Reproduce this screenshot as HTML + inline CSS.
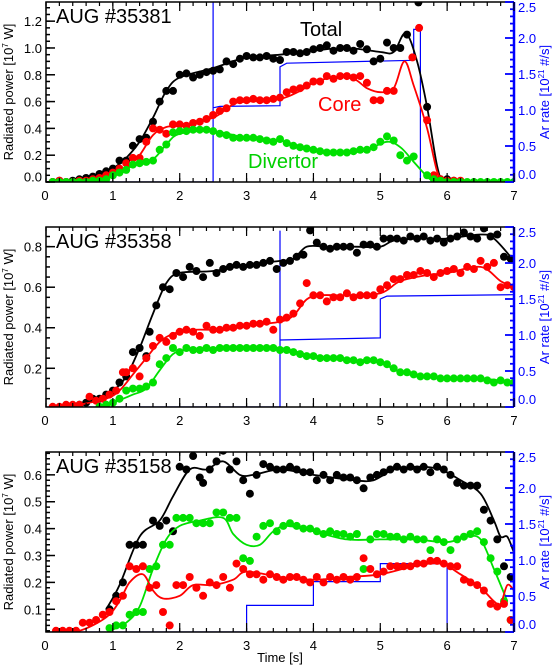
<!DOCTYPE html>
<html><head><meta charset="utf-8">
<style>
html,body{margin:0;padding:0;background:#fff;}
svg{display:block;font-family:"Liberation Sans",Arial,sans-serif;}
</style></head>
<body>
<svg id="chart" width="552" height="667" viewBox="0 0 552 667" xmlns="http://www.w3.org/2000/svg"></svg>
<script>
// ---------- Panel 1: AUG #35381 ----------
const p1TotT=[0.1,0.2,0.3,0.4,0.5,0.6,0.7,0.8,0.9,1.0,1.1,1.2,1.3,1.4,1.5,1.6,1.7,1.8,1.9,2.0,2.1,2.2,2.3,2.4,2.5,2.6,2.7,2.8,2.9,3.0,3.1,3.2,3.3,3.4,3.5,3.6,3.7,3.8,3.9,4.0,4.1,4.2,4.3,4.4,4.5,4.6,4.7,4.8,4.9,5.0,5.1,5.2,5.3,5.4,5.57,5.7,5.8,5.9,6.0,6.1];
const p1TotV=[0,0.01,0,0.01,0.02,0.03,0.04,0.06,0.08,0.1,0.16,0.16,0.27,0.32,0.33,0.45,0.6,0.68,0.68,0.8,0.81,0.78,0.8,0.82,0.83,0.84,0.9,0.88,0.92,0.94,0.93,0.93,0.94,0.92,0.91,0.97,0.97,0.96,0.97,0.99,1.0,1.02,0.98,1.0,1.0,0.98,1.03,0.99,0.9,0.92,1.04,1.0,1.0,1.1,1.34,0.56,0.03,0.02,0.02,0.01];
const p1CorT=[0.1,0.2,0.3,0.4,0.5,0.6,0.7,0.8,0.9,1.0,1.1,1.2,1.3,1.4,1.5,1.6,1.7,1.8,1.9,2.0,2.1,2.2,2.3,2.4,2.5,2.6,2.7,2.8,2.9,3.0,3.1,3.2,3.3,3.4,3.5,3.6,3.7,3.8,3.9,4.0,4.1,4.2,4.3,4.4,4.5,4.6,4.7,4.8,4.9,5.0,5.1,5.2,5.48,5.58,5.7,5.8,5.9,6.0,6.1,6.2];
const p1CorV=[0,0.01,0,0,0.01,0.01,0.02,0.03,0.05,0.07,0.1,0.14,0.18,0.18,0.3,0.4,0.39,0.36,0.43,0.43,0.42,0.44,0.45,0.47,0.5,0.53,0.55,0.6,0.61,0.61,0.62,0.61,0.61,0.62,0.63,0.67,0.69,0.7,0.72,0.75,0.75,0.79,0.77,0.79,0.79,0.78,0.79,0.74,0.61,0.61,0.68,0.68,0.93,1.15,0.46,0.05,0.02,0.01,0.01,0.01];
const p1DivT=[0.1,0.2,0.3,0.4,0.5,0.6,0.7,0.8,0.9,1.0,1.1,1.2,1.3,1.4,1.5,1.6,1.7,1.8,1.9,2.0,2.1,2.2,2.3,2.4,2.5,2.6,2.7,2.8,2.9,3.0,3.1,3.2,3.3,3.4,3.5,3.6,3.7,3.8,3.9,4.0,4.1,4.2,4.3,4.4,4.5,4.6,4.7,4.8,4.9,5.0,5.1,5.2,5.3,5.4,5.5,5.7,5.8,5.9,6.0,6.1,6.2,6.3,6.4,6.5,6.6,6.7,6.8,6.9,7.0];
const p1DivV=[0,0,0,0,0,0,0.01,0.01,0.02,0.05,0.07,0.09,0.13,0.14,0.15,0.16,0.24,0.28,0.37,0.38,0.38,0.39,0.39,0.39,0.38,0.36,0.35,0.33,0.33,0.33,0.33,0.32,0.31,0.3,0.32,0.29,0.27,0.26,0.25,0.24,0.23,0.22,0.22,0.22,0.22,0.23,0.24,0.24,0.26,0.3,0.34,0.31,0.2,0.16,0.19,0.05,0.02,0.01,0,0,0,0,0,0,0,0,0,0,0];
const p1TotLT=[0,0.5,0.8,1.0,1.2,1.4,1.6,1.8,2.0,2.5,3.0,3.5,4.0,4.5,5.0,5.2,5.38,5.55,5.7,5.85,5.95,6.2];
const p1TotLV=[0,0.01,0.05,0.1,0.18,0.3,0.48,0.68,0.78,0.85,0.93,0.95,0.98,1.0,0.97,0.97,1.11,0.9,0.56,0.12,0.01,0];
const p1CorLT=[0.8,1.0,1.2,1.4,1.6,1.8,2.0,2.5,2.8,3.0,3.5,3.8,4.0,4.3,4.6,4.8,5.0,5.2,5.36,5.5,5.7,5.85,5.95];
const p1CorLV=[0.02,0.04,0.1,0.2,0.35,0.41,0.42,0.48,0.58,0.6,0.62,0.68,0.74,0.78,0.77,0.7,0.67,0.7,0.9,0.72,0.4,0.08,0.01];
const p1DivLT=[0.8,1.0,1.3,1.6,1.8,2.0,2.5,3.0,3.5,4.0,4.5,4.8,5.1,5.3,5.5,5.7,5.8];
const p1DivLV=[0,0.05,0.12,0.17,0.28,0.36,0.38,0.33,0.31,0.24,0.22,0.24,0.3,0.26,0.15,0.04,0];
const p1ArT=[0,2.5,2.5,2.5,2.6,3.5,3.5,3.6,5.5,5.5,5.6,5.6,7];
const p1ArV=[0,0,2.5,1.03,1.05,1.06,1.6,1.65,1.69,2.12,2.12,0,0];
const p1LeftTicks=[0.0,0.2,0.4,0.6,0.8,1.0,1.2];

// ---------- Panel 2: AUG #35358 ----------
const p2TotT=[0.1,0.2,0.3,0.4,0.5,0.6,0.7,0.8,0.9,1.0,1.1,1.2,1.3,1.4,1.5,1.55,1.65,1.75,1.85,1.95,2.05,2.15,2.25,2.35,2.45,2.55,2.65,2.75,2.85,2.95,3.05,3.15,3.25,3.35,3.45,3.55,3.65,3.75,3.85,3.95,4.05,4.15,4.25,4.35,4.45,4.55,4.65,4.75,4.85,4.95,5.05,5.15,5.25,5.35,5.45,5.55,5.65,5.75,5.85,5.95,6.05,6.15,6.25,6.35,6.45,6.55,6.65,6.75,6.85,6.95];
const p2TotV=[0,0,0.01,0.01,0.02,0.03,0.05,0.05,0.07,0.09,0.13,0.16,0.28,0.3,0.26,0.38,0.51,0.6,0.59,0.67,0.65,0.7,0.68,0.65,0.72,0.67,0.69,0.7,0.71,0.7,0.71,0.71,0.72,0.73,0.69,0.72,0.73,0.75,0.76,0.88,0.82,0.8,0.79,0.8,0.8,0.8,0.77,0.81,0.81,0.8,0.84,0.84,0.84,0.83,0.85,0.84,0.85,0.83,0.84,0.82,0.84,0.85,0.87,0.85,0.84,0.89,0.85,0.86,0.75,0.74];
const p2CorT=[0.1,0.2,0.3,0.4,0.5,0.65,0.75,0.85,0.95,1.05,1.15,1.2,1.3,1.4,1.5,1.6,1.7,1.8,1.9,2.0,2.1,2.2,2.3,2.4,2.5,2.6,2.7,2.8,2.9,3.0,3.1,3.2,3.3,3.4,3.5,3.6,3.7,3.8,3.9,4.0,4.1,4.2,4.3,4.4,4.5,4.6,4.7,4.8,4.9,5.0,5.1,5.2,5.3,5.4,5.5,5.6,5.7,5.8,5.9,6.0,6.1,6.2,6.3,6.4,6.5,6.6,6.7,6.8,6.9,7.0];
const p2CorV=[0.01,0.01,0.02,0.02,0.02,0.06,0.04,0.05,0.07,0.09,0.18,0.18,0.2,0.16,0.25,0.31,0.35,0.33,0.36,0.38,0.39,0.38,0.36,0.41,0.39,0.39,0.4,0.4,0.41,0.41,0.42,0.42,0.43,0.39,0.44,0.45,0.47,0.52,0.62,0.56,0.56,0.53,0.55,0.55,0.57,0.55,0.56,0.56,0.56,0.59,0.61,0.64,0.64,0.66,0.66,0.68,0.67,0.65,0.67,0.68,0.69,0.67,0.7,0.69,0.73,0.7,0.72,0.6,0.61,0.6];
const p2DivT=[0.8,0.9,1.0,1.1,1.2,1.3,1.4,1.5,1.6,1.7,1.8,1.9,2.0,2.1,2.2,2.3,2.4,2.5,2.6,2.7,2.8,2.9,3.0,3.1,3.2,3.3,3.4,3.5,3.6,3.7,3.8,3.9,4.0,4.1,4.2,4.3,4.4,4.5,4.6,4.7,4.8,4.9,5.0,5.1,5.2,5.3,5.4,5.5,5.6,5.7,5.8,5.9,6.0,6.1,6.2,6.3,6.4,6.5,6.6,6.7,6.8,6.9,7.0];
const p2DivV=[0.01,0.02,0.03,0.05,0.09,0.1,0.1,0.11,0.13,0.22,0.25,0.3,0.28,0.3,0.29,0.29,0.3,0.29,0.3,0.3,0.3,0.3,0.3,0.3,0.3,0.3,0.3,0.29,0.29,0.28,0.27,0.26,0.26,0.25,0.25,0.25,0.25,0.24,0.24,0.23,0.24,0.24,0.23,0.22,0.2,0.18,0.18,0.17,0.16,0.16,0.16,0.15,0.15,0.15,0.15,0.15,0.15,0.15,0.14,0.13,0.14,0.13,0.13];
const p2TotLT=[0.3,0.7,1.0,1.2,1.4,1.6,1.8,2.0,2.5,3.0,3.5,3.7,3.9,4.2,4.6,5.0,5.2,5.6,6.0,6.5,6.7,7.0];
const p2TotLV=[0.02,0.04,0.09,0.16,0.3,0.47,0.62,0.67,0.68,0.71,0.73,0.74,0.8,0.8,0.8,0.8,0.83,0.84,0.84,0.86,0.84,0.73];
const p2CorLT=[0.5,0.9,1.1,1.3,1.5,1.7,1.9,2.2,2.7,3.0,3.5,3.7,3.9,4.1,4.5,5.0,5.3,5.7,6.0,6.5,6.8,7.0];
const p2CorLV=[0.02,0.05,0.09,0.17,0.25,0.33,0.37,0.39,0.39,0.41,0.43,0.46,0.54,0.56,0.56,0.57,0.63,0.66,0.67,0.7,0.63,0.6];
const p2DivLT=[0.8,1.0,1.3,1.5,1.7,1.9,2.1,2.5,3.0,3.5,4.0,4.5,4.8,5.0,5.3,5.6,6.0,6.5,7.0];
const p2DivLV=[0.01,0.03,0.07,0.1,0.19,0.27,0.29,0.29,0.3,0.3,0.26,0.24,0.24,0.23,0.18,0.16,0.15,0.15,0.13];
const p2ArT=[0,3.5,3.5,3.5,5.0,5.0,5.1,7];
const p2ArV=[0,0,2.45,0.93,0.96,1.5,1.54,1.56];
const p2LeftTicks=[0.2,0.4,0.6,0.8];

// ---------- Panel 3: AUG #35158 ----------
const p3TotT=[0.95,1.05,1.15,1.25,1.35,1.45,1.6,1.7,1.8,1.9,2.0,2.1,2.2,2.3,2.35,2.45,2.55,2.65,2.75,2.85,2.95,3.05,3.15,3.25,3.35,3.45,3.55,3.65,3.75,3.85,3.95,4.05,4.15,4.25,4.35,4.45,4.55,4.65,4.75,4.85,4.95,5.05,5.15,5.25,5.35,5.45,5.55,5.65,5.75,5.85,5.95,6.05,6.15,6.25,6.35,6.45,6.55,6.65,6.75,6.85,6.95];
const p3TotV=[0.1,0.15,0.2,0.34,0.34,0.34,0.43,0.41,0.43,0.39,0.63,0.62,0.67,0.59,0.57,0.62,0.65,0.69,0.62,0.65,0.58,0.53,0.6,0.64,0.63,0.62,0.62,0.63,0.62,0.61,0.61,0.58,0.6,0.58,0.6,0.59,0.59,0.58,0.55,0.59,0.6,0.61,0.62,0.63,0.62,0.63,0.62,0.63,0.61,0.63,0.62,0.6,0.57,0.56,0.56,0.56,0.47,0.43,0.36,0.26,0.22];
const p3DivT=[0.95,1.05,1.15,1.25,1.35,1.45,1.55,1.65,1.75,1.85,1.95,2.05,2.15,2.25,2.35,2.45,2.55,2.65,2.75,2.85,2.95,3.05,3.15,3.25,3.35,3.45,3.55,3.65,3.75,3.85,3.95,4.05,4.15,4.25,4.35,4.45,4.55,4.65,4.75,4.85,4.95,5.05,5.15,5.25,5.35,5.45,5.55,5.65,5.75,5.85,5.95,6.05,6.15,6.25,6.35,6.45,6.55,6.65,6.75,6.85,6.95];
const p3DivV=[0.03,0.04,0.04,0.08,0.09,0.09,0.25,0.26,0.34,0.34,0.44,0.44,0.44,0.42,0.42,0.42,0.46,0.46,0.44,0.44,0.29,0.28,0.37,0.41,0.42,0.39,0.41,0.42,0.41,0.4,0.4,0.39,0.38,0.39,0.38,0.38,0.37,0.38,0.25,0.36,0.38,0.38,0.37,0.37,0.36,0.37,0.36,0.36,0.32,0.36,0.35,0.32,0.36,0.37,0.38,0.39,0.35,0.29,0.24,0.13,0.06];
const p3CorT=[0.15,0.25,0.35,0.45,0.55,0.65,0.75,0.85,0.95,1.05,1.15,1.25,1.35,1.45,1.55,1.65,1.75,1.85,1.95,2.05,2.15,2.25,2.35,2.45,2.55,2.65,2.75,2.85,2.95,3.05,3.15,3.25,3.35,3.45,3.55,3.65,3.75,3.85,3.95,4.05,4.15,4.25,4.35,4.45,4.55,4.65,4.75,4.85,4.95,5.05,5.15,5.25,5.35,5.45,5.55,5.65,5.75,5.85,5.95,6.05,6.15,6.25,6.35,6.45,6.55,6.65,6.75,6.85,6.95];
const p3CorV=[0.02,0.02,0.02,0.02,0.05,0.05,0.06,0.08,0.09,0.13,0.15,0.26,0.25,0.26,0.18,0.19,0.09,0.04,0.19,0.19,0.22,0.18,0.15,0.2,0.19,0.22,0.18,0.27,0.25,0.23,0.23,0.21,0.23,0.22,0.21,0.22,0.22,0.21,0.2,0.22,0.2,0.22,0.21,0.22,0.21,0.22,0.29,0.25,0.23,0.24,0.26,0.26,0.26,0.26,0.27,0.27,0.28,0.28,0.27,0.26,0.26,0.21,0.2,0.19,0.17,0.12,0.11,0.12,0.06];
const p3TotLT=[0.9,1.1,1.4,1.7,1.9,2.15,2.4,2.65,2.9,3.1,3.5,4.0,4.6,4.9,5.2,5.6,5.9,6.2,6.5,6.7,6.8,6.9,7.0];
const p3TotLV=[0.1,0.19,0.37,0.43,0.52,0.62,0.62,0.65,0.6,0.6,0.62,0.6,0.58,0.58,0.62,0.63,0.62,0.58,0.53,0.43,0.37,0.37,0.31];
const p3DivLT=[0.95,1.2,1.4,1.6,1.8,2.0,2.3,2.65,2.8,3.0,3.2,3.4,3.6,4.0,4.5,5.0,5.5,6.0,6.3,6.5,6.7,6.9];
const p3DivLV=[0.02,0.05,0.11,0.25,0.36,0.41,0.43,0.44,0.38,0.34,0.34,0.39,0.41,0.39,0.36,0.36,0.36,0.35,0.37,0.36,0.25,0.13];
const p3CorLT=[0.1,0.5,0.9,1.1,1.25,1.45,1.6,1.75,2.0,2.2,2.5,2.8,3.0,3.5,4.0,4.5,5.0,5.5,5.9,6.2,6.5,6.7,6.8,6.9,7.0];
const p3CorLV=[0.01,0.02,0.07,0.13,0.2,0.23,0.17,0.14,0.15,0.19,0.19,0.21,0.24,0.22,0.21,0.22,0.23,0.26,0.27,0.23,0.18,0.13,0.12,0.19,0.17];
const p3ArT=[0,3,3,4,4,5,5,6,6,7];
const p3ArV=[0,0,0.37,0.37,0.7,0.7,0.95,0.95,0,0];
const p3LeftTicks=[0.1,0.2,0.3,0.4,0.5,0.6];

const xTicks=[0,1,2,3,4,5,6,7];
const rightTicks=[0.0,0.5,1.0,1.5,2.0,2.5];

const NS="http://www.w3.org/2000/svg";
const svg=document.getElementById('chart');
const X0=46, X1=514;
function xs(t){return X0+(t/7)*(X1-X0);}
function mk(tag,attrs,parent){const e=document.createElementNS(NS,tag);for(const k in attrs)e.setAttribute(k,attrs[k]);(parent||svg).appendChild(e);return e;}
function smoothPath(pts){
  let d='M'+pts[0][0].toFixed(1)+','+pts[0][1].toFixed(1);
  for(let i=0;i<pts.length-1;i++){
    const p0=pts[i-1]||pts[i],p1=pts[i],p2=pts[i+1],p3=pts[i+2]||p2;
    const c1=[p1[0]+(p2[0]-p0[0])/6,p1[1]+(p2[1]-p0[1])/6];
    const c2=[p2[0]-(p3[0]-p1[0])/6,p2[1]-(p3[1]-p1[1])/6];
    d+='C'+c1[0].toFixed(1)+','+c1[1].toFixed(1)+' '+c2[0].toFixed(1)+','+c2[1].toFixed(1)+' '+p2[0].toFixed(1)+','+p2[1].toFixed(1);
  }
  return d;
}

const panels=[
 {id:1,top:2,bot:182,vmin:0,vmax:1.343,minor:0.05,ticks:p1LeftTicks,title:'AUG #35381',
  series:[['total',p1TotT,p1TotV,p1TotLT,p1TotLV,'#000'],['core',p1CorT,p1CorV,p1CorLT,p1CorLV,'#ff0000'],['divertor',p1DivT,p1DivV,p1DivLT,p1DivLV,'#00e000']],
  ar:[p1ArT,p1ArV]},
 {id:2,top:227,bot:407,vmin:0.009,vmax:0.897,minor:0.05,ticks:p2LeftTicks,title:'AUG #35358',
  series:[['total',p2TotT,p2TotV,p2TotLT,p2TotLV,'#000'],['core',p2CorT,p2CorV,p2CorLT,p2CorLV,'#ff0000'],['divertor',p2DivT,p2DivV,p2DivLT,p2DivLV,'#00e000']],
  ar:[p2ArT,p2ArV]},
 {id:3,top:452,bot:632,vmin:0.0155,vmax:0.685,minor:0.02,ticks:p3LeftTicks,title:'AUG #35158',
  series:[['total',p3TotT,p3TotV,p3TotLT,p3TotLV,'#000'],['divertor',p3DivT,p3DivV,p3DivLT,p3DivLV,'#00e000'],['core',p3CorT,p3CorV,p3CorLT,p3CorLV,'#ff0000']],
  ar:[p3ArT,p3ArV]}
];

panels.forEach(P=>{
  const ys=v=>P.bot-(v-P.vmin)/(P.vmax-P.vmin)*(P.bot-P.top);
  const yr=r=>P.bot-r/2.5*(P.bot-P.top);
  const g=mk('g',{});
  
  
  const cp=mk('clipPath',{id:'clip'+P.id},g);
  mk('rect',{x:X0,y:P.top,width:X1-X0,height:P.bot-P.top},cp);
  const plot=mk('g',{'clip-path':'url(#clip'+P.id+')'},g);
  const arPts=P.ar[0].map((t,i)=>xs(t).toFixed(1)+','+yr(P.ar[1][i]).toFixed(1)).join(' ');
  const ar=mk('polyline',{points:arPts,fill:'none',stroke:'#0000ff','stroke-width':1.2},plot);
  
  
  P.series.forEach(s=>{
    const [name,tt,vv,lt,lv,col]=s;
    const sg=mk('g',{},plot);
    
    
    tt.forEach((t,i)=>{
      const c=mk('circle',{cx:xs(t).toFixed(1),cy:ys(vv[i]).toFixed(1),r:4,fill:col},sg);
      
      
    });
    const ln=mk('path',{d:smoothPath(lt.map((t,i)=>[xs(t),ys(lv[i])])),fill:'none',stroke:col,'stroke-width':1.8},plot);
    
    
  });
  mk('polyline',{points:`${X1},${P.top} ${X0},${P.top} ${X0},${P.bot} ${X1},${P.bot}`,fill:'none',stroke:'#000','stroke-width':1.5},g);
  const rs=mk('line',{x1:X1,y1:P.top,x2:X1,y2:P.bot,stroke:'#0000ff','stroke-width':2.5},g);
  
  
  for(let v=Math.ceil(P.vmin/P.minor)*P.minor;v<=P.vmax+1e-9;v+=P.minor){
    mk('line',{x1:X0,y1:ys(v),x2:X0+4,y2:ys(v),stroke:'#000','stroke-width':1.5},g);
  }
  P.ticks.forEach(v=>{
    mk('line',{x1:X0,y1:ys(v),x2:X0+9,y2:ys(v),stroke:'#000','stroke-width':1.5},g);
    let yy=ys(v)+5; if(yy>P.bot)yy=P.bot-0.5;
    const t=mk('text',{x:X0-4,y:yy,'text-anchor':'end','font-size':13,fill:'#000'},g);
    t.textContent=v.toFixed(1);
    
    
  });
  for(let r=0;r<=2.5001;r+=0.1){
    const major=Math.abs(r*2-Math.round(r*2))<1e-6;
    mk('line',{x1:X1,y1:yr(r),x2:X1-(major?9:4),y2:yr(r),stroke:'#0000ff','stroke-width':1.8},g);
  }
  rightTicks.forEach(r=>{
    let yy=yr(r)+5; if(yy>P.bot)yy=P.bot-3; if(yy<P.top+10)yy=P.top+10;
    const t=mk('text',{x:X1+4,y:yy,'font-size':13,fill:'#0000ff'},g);
    t.textContent=r.toFixed(1);
    
    
  });
  for(let t=0;t<=7.001;t+=0.2){
    mk('line',{x1:xs(t),y1:P.bot,x2:xs(t),y2:P.bot-4,stroke:'#000','stroke-width':1.2},g);
    mk('line',{x1:xs(t),y1:P.top,x2:xs(t),y2:P.top+4,stroke:'#000','stroke-width':1.2},g);
  }
  xTicks.forEach(t=>{
    mk('line',{x1:xs(t),y1:P.bot,x2:xs(t),y2:P.bot-9,stroke:'#000','stroke-width':1.2},g);
    mk('line',{x1:xs(t),y1:P.top,x2:xs(t),y2:P.top+9,stroke:'#000','stroke-width':1.2},g);
    const tx=mk('text',{x:xs(t)-(t==0?1:0),y:P.bot+18,'text-anchor':'middle','font-size':13,fill:'#000'},g);
    tx.textContent=String(t);
    
    
  });
  const ti=mk('text',{x:X0+10,y:P.top+21,'font-size':20,fill:'#000'},g);
  ti.textContent=P.title;
  
  
  const cy=(P.top+P.bot)/2;
  const yl=mk('text',{x:0,y:0,'font-size':13,fill:'#000','text-anchor':'middle',transform:`translate(13,${cy}) rotate(-90)`},g);
  yl.innerHTML='Radiated power [10<tspan dy="-5" font-size="8">7</tspan><tspan dy="5"> W]</tspan>';
  
  
  const yrT=mk('text',{x:0,y:0,'font-size':13,fill:'#0000ff','text-anchor':'middle',transform:`translate(549,${cy}) rotate(-90)`},g);
  yrT.innerHTML='Ar rate [10<tspan dy="-5" font-size="8">21</tspan><tspan dy="5"> #/s]</tspan>';
  
  
});

[['Total',300,36,'#000','label-total'],['Core',318,111,'#ff0000','label-core'],['Divertor',248,168,'#00d000','label-divertor']].forEach(a=>{
  const t=mk('text',{x:a[1],y:a[2],'font-size':20,fill:a[3]});
  t.textContent=a[0];
  
  
});
const xt=mk('text',{x:280,y:662,'text-anchor':'middle','font-size':13,fill:'#000'});
xt.textContent='Time [s]';


</script>
</body></html>
